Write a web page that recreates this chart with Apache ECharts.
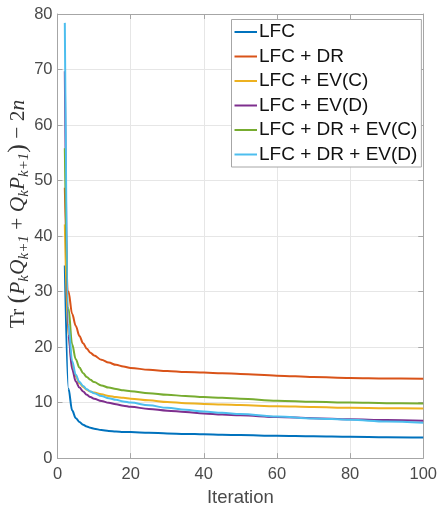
<!DOCTYPE html>
<html>
<head>
<meta charset="utf-8">
<script src="https://cdn.jsdelivr.net/npm/echarts@6/dist/echarts.min.js"></script>
<style>
  html, body { margin: 0; padding: 0; background: #fff; }
  #chart { width: 440px; height: 512px; }
</style>
</head>
<body>
<div id="chart"></div>
<script>
// Iteration numbers at which each run was sampled
const iterations = [2, 3, 4, 5, 6, 7, 8, 9, 10, 12, 14, 16, 18, 20, 25, 30, 35, 40, 45, 50, 60, 70, 80, 90, 100];

// Tr(P_k Q_{k+1} + Q_k P_{k+1}) - 2n for each configuration
const lfc        = [34.7, 12.5, 8.6, 7.2, 6.5, 6.0, 5.7, 5.45, 5.3, 5.05, 4.9, 4.8, 4.72, 4.68, 4.55, 4.45, 4.36, 4.28, 4.21, 4.15, 4.03, 3.93, 3.84, 3.77, 3.7];
const lfcDr      = [48.7, 30.0, 26.0, 23.8, 22.0, 20.7, 19.7, 19.0, 18.5, 17.7, 17.2, 16.8, 16.5, 16.25, 15.9, 15.7, 15.5, 15.4, 15.3, 15.15, 14.85, 14.6, 14.45, 14.35, 14.3];
const lfcEvC     = [42.1, 22.0, 16.8, 14.7, 13.5, 12.8, 12.3, 12.0, 11.8, 11.5, 11.2, 11.0, 10.85, 10.7, 10.4, 10.1, 9.9, 9.75, 9.65, 9.55, 9.35, 9.2, 9.07, 9.0, 8.95];
const lfcEvD     = [69.7, 22.0, 16.0, 13.8, 12.7, 12.0, 11.4, 11.0, 10.7, 10.3, 9.95, 9.7, 9.45, 9.25, 8.85, 8.55, 8.3, 8.05, 7.85, 7.7, 7.4, 7.2, 7.0, 6.85, 6.75];
const lfcDrEvC   = [55.8, 27.0, 20.5, 17.8, 16.3, 15.3, 14.6, 14.1, 13.7, 13.1, 12.7, 12.45, 12.2, 12.05, 11.7, 11.4, 11.2, 11.0, 10.85, 10.7, 10.35, 10.15, 10.0, 9.9, 9.85];
const lfcDrEvD   = [78.4, 24.0, 17.5, 15.0, 13.7, 13.0, 12.4, 12.0, 11.7, 11.2, 10.8, 10.5, 10.2, 10.0, 9.5, 9.05, 8.7, 8.4, 8.15, 7.95, 7.5, 7.15, 6.9, 6.6, 6.35];

const seriesNames = ['LFC', 'LFC + DR', 'LFC + EV(C)', 'LFC + EV(D)', 'LFC + DR + EV(C)', 'LFC + DR + EV(D)'];
const seriesValues = [lfc, lfcDr, lfcEvC, lfcEvD, lfcDrEvC, lfcDrEvD];
const seriesColors = ['#0072BD', '#D95319', '#EDB120', '#7E2F8E', '#77AC30', '#4DBEEE'];

// Axis ticks
const xTicks = { min: 0, max: 100, step: 20 };
const yTicks = { min: 0, max: 80, step: 10 };

const axisGray = '#a6a6a6';
const labelGray = '#4a4a4a';
const gridGray = '#e6e6e6';

const chart = echarts.init(document.getElementById('chart'), null, { renderer: 'canvas' });

const series = seriesNames.map((name, i) => ({
  name: name,
  type: 'line',
  data: iterations.map((it, j) => [it, seriesValues[i][j]]),
  smooth: 0.35,
  smoothMonotone: 'x',
  symbol: 'none',
  lineStyle: { color: seriesColors[i], width: 2 },
  itemStyle: { color: seriesColors[i] },
  z: 3 + i
}));

const sansFont = '"Liberation Sans", Arial, Helvetica, sans-serif';
const serifFont = '"Liberation Serif", "Times New Roman", serif';

chart.setOption({
  animation: false,
  backgroundColor: '#ffffff',
  grid: { left: 57.5, right: 12, top: 14, bottom: 48.5 },
  legend: {
    orient: 'vertical',
    left: 231.5,
    top: 19.5,
    padding: [3, 4, 3, 3],
    itemGap: 5.5,
    itemWidth: 22.5,
    itemHeight: 2,
    icon: 'rect',
    backgroundColor: '#ffffff',
    borderColor: '#a6a6a6',
    borderWidth: 1,
    textStyle: { fontFamily: sansFont, fontSize: 19, color: '#111111', padding: [0, 0, 0, -3], lineHeight: 19 },
    data: seriesNames
  },
  xAxis: [{
    type: 'value',
    position: 'bottom',
    min: xTicks.min, max: xTicks.max, interval: xTicks.step,
    name: 'Iteration',
    nameLocation: 'middle',
    nameGap: 29,
    nameTextStyle: { fontFamily: sansFont, fontSize: 18.5, color: labelGray },
    axisLine: { show: true, lineStyle: { color: axisGray, width: 1 } },
    axisTick: { show: true, inside: true, length: 5, lineStyle: { color: axisGray } },
    axisLabel: { fontFamily: sansFont, fontSize: 16.5, color: labelGray, margin: 8 },
    splitLine: { show: true, lineStyle: { color: gridGray, width: 1 } }
  }, {
    type: 'value',
    position: 'top',
    min: xTicks.min, max: xTicks.max, interval: xTicks.step,
    axisLine: { show: true, onZero: false, lineStyle: { color: axisGray, width: 1 } },
    axisTick: { show: true, inside: true, length: 5, lineStyle: { color: axisGray } },
    axisLabel: { show: false },
    splitLine: { show: false }
  }],
  yAxis: [{
    type: 'value',
    position: 'left',
    min: yTicks.min, max: yTicks.max, interval: yTicks.step,
    axisLine: { show: true, onZero: false, lineStyle: { color: axisGray, width: 1 } },
    axisTick: { show: true, inside: true, length: 5, lineStyle: { color: axisGray } },
    axisLabel: { fontFamily: sansFont, fontSize: 16.5, color: labelGray, margin: 5 },
    splitLine: { show: true, lineStyle: { color: gridGray, width: 1 } }
  }, {
    type: 'value',
    position: 'right',
    min: yTicks.min, max: yTicks.max, interval: yTicks.step,
    axisLine: { show: true, onZero: false, lineStyle: { color: axisGray, width: 1 } },
    axisTick: { show: true, inside: true, length: 5, lineStyle: { color: axisGray } },
    axisLabel: { show: false },
    splitLine: { show: false }
  }],
  graphic: [{
    type: 'text',
    x: 18,
    y: 214,
    rotation: Math.PI / 2,
    z: 10,
    style: {
      text: '{m|Tr}{m| }{p|(}{i|P}{s|k}{i|Q}{s|k+1}{m| + }{i|Q}{s|k}{i|P}{s|k+1}{p|)}{m| − 2}{i|n}',
      align: 'center',
      verticalAlign: 'middle',
      fill: '#333333',
      rich: {
        m: { fontFamily: serifFont, fontSize: 21.5, lineHeight: 28, verticalAlign: 'middle', fill: '#333333' },
        i: { fontFamily: serifFont, fontSize: 21.5, fontStyle: 'italic', lineHeight: 28, verticalAlign: 'middle', fill: '#333333' },
        p: { fontFamily: serifFont, fontSize: 26, lineHeight: 28, verticalAlign: 'middle', fill: '#333333' },
        s: { fontFamily: serifFont, fontSize: 15, fontStyle: 'italic', lineHeight: 15, verticalAlign: 'bottom', fill: '#333333' }
      }
    }
  }],
  series: series
});
</script>
</body>
</html>
